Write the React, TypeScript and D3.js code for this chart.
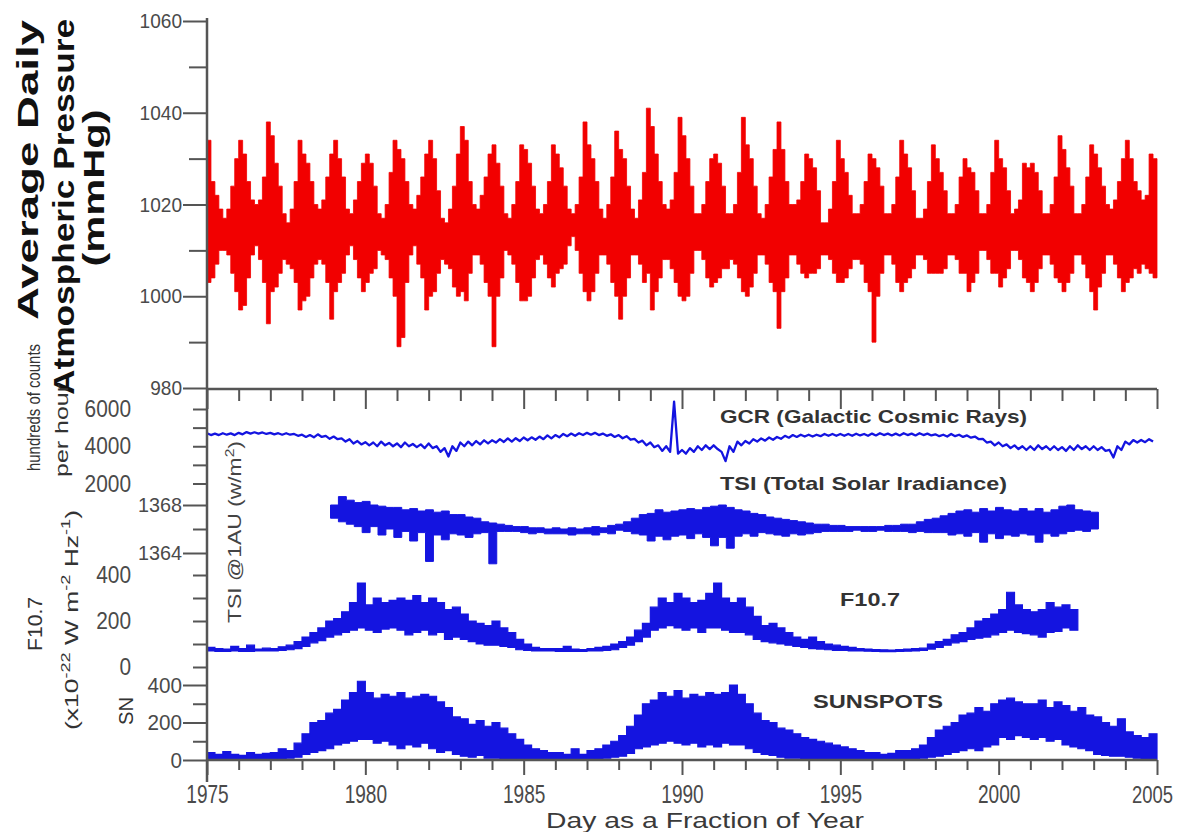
import React, { useEffect, useRef } from 'react';
import * as d3 from 'd3';

// ---- data ----

const majorYears = [1975, 1980, 1985, 1990, 1995, 2000, 2005];
const minorYears = d3.range(1976, 2005).filter((y) => y % 5 !== 0);

const pressureTicks = [980, 1000, 1020, 1040, 1060];
const pressureMinorTicks = [990, 1010, 1030, 1050];

// daily pressure envelope, 8 samples per year from 1975.0 (max / min in each slot)
const pressureStart = 1975;
const pressurePerYear = 8;
const pressureHigh = [
  1034, 1025, 1022, 1019, 1017, 1019, 1024, 1030,
  1034, 1031, 1025, 1021, 1020, 1021, 1026, 1038,
  1035, 1029, 1024, 1018, 1016, 1019, 1025, 1034,
  1031, 1029, 1025, 1020, 1019, 1021, 1026, 1031,
  1034, 1030, 1026, 1019, 1018, 1021, 1025, 1029,
  1031, 1029, 1024, 1018, 1017, 1020, 1027, 1034,
  1032, 1030, 1025, 1020, 1019, 1022, 1026, 1031,
  1034, 1030, 1023, 1017, 1016, 1019, 1024, 1031,
  1037, 1034, 1025, 1020, 1019, 1022, 1026, 1031,
  1033, 1029, 1024, 1018, 1017, 1020, 1025, 1033,
  1032, 1029, 1024, 1019, 1018, 1020, 1025, 1033,
  1031, 1028, 1024, 1019, 1018, 1020, 1026, 1038,
  1033, 1030, 1025, 1019, 1017, 1020, 1026, 1036,
  1032, 1030, 1024, 1019, 1017, 1021, 1027, 1041,
  1037, 1031, 1025, 1020, 1019, 1021, 1027, 1039,
  1035, 1030, 1024, 1018, 1018, 1020, 1025, 1030,
  1031, 1029, 1024, 1018, 1018, 1020, 1027, 1039,
  1033, 1030, 1024, 1018, 1017, 1020, 1026, 1032,
  1038, 1032, 1025, 1020, 1020, 1021, 1025, 1031,
  1030, 1028, 1023, 1016, 1016, 1019, 1025, 1034,
  1030, 1027, 1022, 1018, 1018, 1020, 1025, 1031,
  1030, 1028, 1024, 1018, 1018, 1020, 1026, 1034,
  1031, 1028, 1023, 1017, 1017, 1019, 1025, 1033,
  1030, 1027, 1023, 1018, 1018, 1020, 1026, 1030,
  1028, 1027, 1023, 1018, 1018, 1020, 1027, 1034,
  1030, 1028, 1023, 1018, 1019, 1021, 1029, 1028,
  1029, 1027, 1023, 1018, 1018, 1020, 1026, 1035,
  1032, 1028, 1024, 1018, 1018, 1020, 1026, 1033,
  1031, 1028, 1024, 1020, 1019, 1021, 1025, 1030,
  1034, 1030, 1025, 1023, 1021, 1022, 1031, 1030,
];
const pressureLow = [
  1003, 1004, 1007, 1010, 1010, 1009, 1005, 1001,
  997, 998, 1004, 1009, 1011, 1008, 1003, 994,
  1001, 1002, 1005, 1008, 1007, 1006, 1003, 997,
  999, 1000, 1004, 1007, 1008, 1007, 1003, 995,
  1001, 1003, 1005, 1009, 1011, 1008, 1004, 1001,
  1003, 1005, 1006, 1010, 1009, 1008, 1004, 1000,
  989, 991, 1003, 1009, 1011, 1007, 1004, 997,
  1000, 1001, 1005, 1008, 1007, 1006, 1002, 1000,
  1001, 999, 1005, 1009, 1009, 1007, 1003, 1000,
  989, 1000, 1004, 1010, 1009, 1007, 1003, 999,
  999, 1000, 1004, 1008, 1009, 1007, 1004, 1002,
  1005, 1006, 1007, 1011, 1013, 1010, 1005, 1001,
  999, 1001, 1005, 1009, 1009, 1007, 1003, 1000,
  995, 1000, 1004, 1009, 1009, 1007, 1003, 1005,
  997, 1001, 1004, 1008, 1008, 1006, 1003, 1000,
  999, 1000, 1005, 1010, 1010, 1008, 1004, 1002,
  1003, 1004, 1006, 1006, 1008, 1007, 1004, 1001,
  1000, 1002, 1005, 1009, 1009, 1007, 1003, 1001,
  993, 1001, 1004, 1009, 1009, 1007, 1005, 1004,
  1005, 1005, 1006, 1009, 1009, 1008, 1005, 1003,
  1003, 1004, 1006, 1008, 1008, 1007, 1003, 1001,
  990, 1000, 1005, 1009, 1009, 1007, 1003, 1001,
  1003, 1004, 1006, 1009, 1009, 1008, 1005, 1005,
  1005, 1005, 1006, 1009, 1009, 1008, 1005, 1005,
  1001, 1003, 1005, 1010, 1010, 1008, 1005, 1005,
  1002, 1004, 1006, 1010, 1010, 1008, 1004, 1003,
  1001, 1003, 1006, 1009, 1009, 1007, 1004, 1003,
  1001, 1003, 1005, 1009, 1009, 1007, 1004, 1001,
  997, 1002, 1005, 1009, 1009, 1007, 1004, 1001,
  1003, 1004, 1006, 1005, 1007, 1006, 1005, 1004,
];

// galactic cosmic rays, hundreds of counts per hour, 4 samples per year from 1975.0
const gcrStart = 1975;
const gcrHigh = [
  4700, 4680, 4700, 4690, 4720, 4760, 4750, 4740, 4720, 4700, 4700, 4660,
  4620, 4600, 4640, 4560, 4520, 4420, 4380, 4280, 4220, 4200, 4250, 4180,
  4150, 4200, 4120, 4100, 4150, 4000, 3900, 4000, 4200, 4250, 4280, 4320,
  4320, 4380, 4420, 4430, 4470, 4480, 4520, 4580, 4600, 4660, 4680, 4700,
  4720, 4720, 4680, 4640, 4600, 4540, 4400, 4300, 4200, 4050, 4000, 6400,
  3800, 3900, 4000, 4050, 4050, 3700, 4000, 4250, 4280, 4380, 4420, 4470,
  4500, 4560, 4600, 4620, 4620, 4620, 4660, 4660, 4660, 4660, 4670, 4660,
  4680, 4700, 4680, 4680, 4700, 4680, 4700, 4680, 4640, 4620, 4660, 4620,
  4580, 4520, 4400, 4250, 4200, 4100, 4050, 4000, 4000, 4050, 4000, 4000,
  3950, 4000, 4050, 4000, 4000, 3950, 3800, 4000, 4250, 4330, 4340, 4380,
];
const gcrLow = [
  4600, 4600, 4620, 4600, 4640, 4680, 4680, 4660, 4640, 4620, 4620, 4560,
  4500, 4480, 4500, 4400, 4380, 4250, 4150, 4100, 4050, 4000, 4050, 4000,
  3950, 4000, 3950, 3900, 3900, 3700, 3450, 3750, 4000, 4050, 4100, 4150,
  4200, 4230, 4250, 4280, 4320, 4350, 4380, 4420, 4480, 4540, 4560, 4600,
  4620, 4600, 4560, 4500, 4430, 4350, 4200, 4050, 3950, 3750, 3700, 3600,
  3600, 3700, 3800, 3850, 3850, 3200, 3700, 4050, 4150, 4250, 4300, 4350,
  4400, 4460, 4500, 4520, 4520, 4540, 4560, 4560, 4560, 4560, 4580, 4560,
  4580, 4600, 4580, 4580, 4600, 4580, 4600, 4580, 4540, 4520, 4540, 4500,
  4460, 4380, 4200, 4050, 4000, 3900, 3850, 3800, 3800, 3850, 3800, 3800,
  3750, 3800, 3850, 3800, 3800, 3750, 3400, 3800, 4100, 4200, 4220, 4250,
];

// total solar irradiance at 1 AU (W/m2), 4 samples per year from 1978.9
const tsiStart = 1978.9;
const tsiHigh = [
  1368.0, 1368.7, 1368.4, 1368.2, 1368.3, 1368.0, 1367.9, 1367.8,
  1367.8, 1367.6, 1367.7, 1367.5, 1367.6, 1367.4, 1367.5, 1367.2,
  1367.2, 1367.0, 1366.9, 1366.6, 1366.5, 1366.4, 1366.3, 1366.2,
  1366.2, 1366.1, 1366.1, 1366.0, 1366.1, 1366.0, 1366.1, 1366.0,
  1366.1, 1366.2, 1366.1, 1366.3, 1366.4, 1366.6, 1366.9, 1367.2,
  1367.3, 1367.6, 1367.4, 1367.5, 1367.6, 1367.7, 1367.6, 1367.8,
  1367.9, 1368.0, 1367.8, 1367.6, 1367.5, 1367.3, 1367.2, 1367.0,
  1366.9, 1366.8, 1366.7, 1366.6, 1366.5, 1366.4, 1366.4, 1366.3,
  1366.3, 1366.2, 1366.2, 1366.2, 1366.2, 1366.2, 1366.3, 1366.3,
  1366.4, 1366.4, 1366.6, 1366.8, 1366.9, 1367.1, 1367.3, 1367.5,
  1367.6, 1367.4, 1367.7, 1367.5, 1367.8, 1367.6, 1367.5, 1367.7,
  1367.5, 1367.7, 1367.4, 1367.6, 1367.9, 1368.0, 1367.6, 1367.5,
  1367.4,
];
const tsiLow = [
  1366.9, 1366.6, 1366.4, 1366.2, 1365.7, 1366.2, 1365.5, 1366.0,
  1365.3, 1365.8, 1365.0, 1365.7, 1363.3, 1365.5, 1365.1, 1365.6,
  1365.5, 1365.3, 1365.6, 1365.7, 1363.1, 1365.8, 1365.8, 1365.8,
  1365.7, 1365.6, 1365.7, 1365.6, 1365.6, 1365.6, 1365.5, 1365.6,
  1365.6, 1365.5, 1365.7, 1365.6, 1365.9, 1365.8, 1365.6, 1365.5,
  1365.0, 1365.4, 1365.1, 1365.4, 1365.5, 1365.2, 1365.6, 1365.3,
  1364.6, 1365.3, 1364.4, 1365.4, 1365.6, 1365.4, 1365.7, 1365.6,
  1365.5, 1365.4, 1365.6, 1365.5, 1365.6, 1365.7, 1365.8, 1365.8,
  1365.8, 1365.8, 1365.9, 1365.8, 1365.8, 1365.9, 1365.8, 1365.8,
  1365.8, 1365.7, 1365.8, 1365.7, 1365.7, 1365.7, 1365.5, 1365.6,
  1365.4, 1365.7, 1364.9, 1365.6, 1365.2, 1365.5, 1365.4, 1365.6,
  1365.5, 1364.9, 1365.6, 1365.4, 1365.6, 1365.8, 1365.9, 1365.8,
  1366.0,
];

// F10.7 radio flux, 4 samples per year from 1975.0
const f107Start = 1975;
const f107High = [
  85, 80, 78, 90, 80, 95, 78, 82, 80, 88, 95, 110,
  130, 150, 170, 200, 210, 240, 280, 365, 270, 300, 280, 290,
  300, 290, 310, 280, 300, 280, 250, 260, 230, 200, 190, 180,
  200, 170, 150, 120, 100, 85, 80, 80, 80, 90, 78, 76,
  80, 85, 90, 100, 110, 130, 160, 190, 260, 300, 280, 320,
  300, 280, 290, 320, 365, 300, 280, 300, 260, 220, 180, 190,
  170, 150, 130, 120, 130, 110, 100, 95, 90, 85, 80, 78,
  76, 75, 74, 76, 78, 80, 82, 100, 110, 120, 140, 150,
  170, 200, 210, 230, 250, 325, 270, 250, 240, 250, 280, 260,
  270, 250,
];
const f107Low = [
  70, 68, 68, 70, 68, 68, 70, 70, 70, 72, 75, 80,
  90, 105, 115, 130, 140, 150, 160, 170, 160, 150, 165, 170,
  160, 140, 150, 160, 140, 150, 120, 130, 120, 110, 100, 95,
  95, 90, 85, 75, 72, 70, 70, 70, 68, 68, 68, 68,
  70, 70, 72, 75, 85, 95, 110, 130, 160, 170, 180, 170,
  160, 170, 150, 170, 170, 160, 150, 150, 140, 120, 110, 105,
  100, 95, 90, 85, 80, 78, 75, 72, 72, 70, 70, 69,
  68, 67, 67, 68, 69, 70, 72, 78, 85, 95, 105, 110,
  120, 125, 130, 140, 150, 160, 150, 145, 140, 130, 150, 155,
  170, 160,
];

// daily sunspot number, 4 samples per year from 1975.0
const sunspotStart = 1975;
const sunspotHigh = [
  40, 30, 45, 30, 25, 40, 30, 35, 40, 60, 50, 90,
  140, 200, 210, 250, 270, 320, 360, 420, 360, 330, 350, 340,
  360, 330, 340, 350, 340, 310, 280, 230, 220, 190, 210, 180,
  200, 170, 140, 110, 80, 60, 50, 40, 40, 30, 60, 30,
  50, 60, 80, 100, 130, 180, 240, 300, 320, 360, 340, 370,
  330, 350, 340, 360, 350, 360, 400, 350, 300, 250, 210, 200,
  170, 160, 140, 120, 110, 100, 90, 80, 70, 60, 50, 40,
  40, 30, 35, 50, 50, 60, 80, 120, 160, 180, 200, 240,
  250, 280, 260, 300, 320, 330, 310, 300, 300, 320, 280, 310,
  290, 260, 280, 240, 230, 200, 180, 220, 150, 130, 120, 140,
];
const sunspotLow = [
  2, 0, 0, 2, 0, 0, 2, 0, 5, 8, 10, 15,
  30, 40, 50, 60, 80, 90, 100, 110, 110, 90, 100, 80,
  60, 80, 70, 90, 60, 40, 50, 30, 20, 15, 25, 10,
  10, 5, 5, 3, 0, 0, 0, 0, 0, 0, 0, 0,
  0, 5, 10, 15, 20, 35, 60, 70, 80, 90, 100, 90,
  80, 90, 70, 80, 70, 90, 80, 80, 60, 40, 30, 25,
  15, 10, 10, 5, 5, 3, 2, 0, 0, 0, 0, 0,
  0, 0, 0, 0, 0, 5, 10, 15, 20, 30, 40, 50,
  60, 50, 70, 80, 120, 110, 130, 120, 110, 120, 100, 110,
  80, 70, 60, 50, 30, 25, 20, 20, 15, 10, 5, 0,
];

const gcrLabels = [6000, 4000, 2000];
const gcrTicks = [2000, 3000, 4000, 5000, 6000];
const tsiTicks = [1364, 1368];
const tsiMinorTicks = [1366];
const f107Labels = [400, 200, 0];
const f107Ticks = [0, 100, 200, 300, 400];
const sunspotTicks = [0, 200, 400];
const sunspotMinorTicks = [100, 300];

// ---- helpers ----

const NARROW = "'Liberation Sans Narrow', 'Liberation Sans', Arial, sans-serif";
const SANS = "'Liberation Sans', Arial, Helvetica, sans-serif";
const AXIS = '#555';
const RED = '#f20000';
const BLUE = '#1414e0';

type Slot = { t: number; hi: number; lo: number };
type Pt = { t: number; v: number };

// one block per sample slot; the last block is closed at the end of its slot
const slots = (start: number, perYear: number, hi: number[], lo: number[]): Slot[] => {
  const s = hi.map((h, i) => ({ t: start + i / perYear, hi: h, lo: lo[i] }));
  const last = s[s.length - 1];
  return [...s, { ...last, t: start + hi.length / perYear }];
};

// thin trace: up to the slot max, down to the slot min
const zigzag = (start: number, perYear: number, hi: number[], lo: number[]): Pt[] =>
  hi.flatMap((h, i) => [
    { t: start + i / perYear, v: h },
    { t: start + (i + 0.5) / perYear, v: lo[i] },
  ]);

const Chart = () => {
  const svgRef = useRef<SVGSVGElement>(null);

  useEffect(() => {
    const svg = d3.select(svgRef.current);
    svg.selectAll('*').remove();

    const X0 = 207;
    const X1 = 1157;
    const x = d3.scaleLinear().domain([1975, 2005]).range([X0, X1]);

    const yP = d3.scaleLinear().domain([980, 1060]).range([388, 21]);
    const yG = d3.scaleLinear().domain([2000, 6000]).range([483.5, 409]);
    const yT = d3.scaleLinear().domain([1364, 1368]).range([553, 505]);
    const yF = d3.scaleLinear().domain([0, 400]).range([667, 575]);
    const yS = d3.scaleLinear().domain([0, 400]).range([760, 685]);

    const squeeze = (sel: any, perChar: number) =>
      sel
        .attr('textLength', function (this: SVGTextElement) {
          return (this.textContent || '').length * perChar;
        })
        .attr('lengthAdjust', 'spacingAndGlyphs');

    const styleAxis = (g: any, fontSize = 22, perChar = 10.6) => {
      g.select('.domain').remove();
      g.selectAll('line').attr('stroke', AXIS).attr('stroke-width', 2);
      const t = g.selectAll('text')
        .attr('fill', '#4a4a4a')
        .style('font-family', NARROW)
        .style('font-size', `${fontSize}px`);
      squeeze(t, perChar);
    };

    // ---- series ----
    const drawBand = (data: Slot[], y: any, color: string, width: number) => {
      const area = d3.area<Slot>()
        .curve(d3.curveStepAfter)
        .x((d) => x(d.t))
        .y0((d) => y(d.lo))
        .y1((d) => y(d.hi));
      svg.append('path')
        .attr('d', area(data))
        .attr('fill', color)
        .attr('stroke', color)
        .attr('stroke-width', width);
    };
    const drawTrace = (pts: Pt[], y: any, color: string, width: number) => {
      const line = d3.line<Pt>().x((d) => x(d.t)).y((d) => y(d.v));
      svg.append('path')
        .attr('d', line(pts))
        .attr('fill', 'none')
        .attr('stroke', color)
        .attr('stroke-width', width)
        .attr('stroke-linejoin', 'round');
    };

    drawBand(slots(pressureStart, pressurePerYear, pressureHigh, pressureLow), yP, RED, 0.8);
    drawTrace(zigzag(gcrStart, 4, gcrHigh, gcrLow), yG, BLUE, 2.3);
    drawBand(slots(tsiStart, 4, tsiHigh, tsiLow), yT, BLUE, 1);
    drawBand(slots(f107Start, 4, f107High, f107Low), yF, BLUE, 1.2);
    drawBand(slots(sunspotStart, 4, sunspotHigh, sunspotLow), yS, BLUE, 1.2);

    // ---- left axis line, shared by both panels ----
    svg.append('line')
      .attr('x1', X0).attr('x2', X0).attr('y1', 18).attr('y2', 782)
      .attr('stroke', AXIS).attr('stroke-width', 2.5);

    // pressure axis
    const gP = svg.append('g').attr('transform', `translate(${X0},0)`);
    gP.call(d3.axisLeft(yP).tickValues(pressureTicks).tickSize(24).tickPadding(1).tickFormat(d3.format('d')) as any);
    styleAxis(gP, 21, 10.6);
    const gPm = svg.append('g').attr('transform', `translate(${X0},0)`);
    gPm.call(d3.axisLeft(yP).tickValues(pressureMinorTicks).tickSize(18).tickFormat(() => '') as any);
    styleAxis(gPm);

    // lower panel left ticks
    const minorLeft = (y: any, values: number[]) => {
      const g = svg.append('g').attr('transform', `translate(${X0},0)`);
      g.call(d3.axisLeft(y).tickValues(values).tickSize(14).tickFormat(() => '') as any);
      styleAxis(g);
    };
    minorLeft(yG, gcrTicks);
    minorLeft(yT, tsiMinorTicks);
    minorLeft(yF, f107Ticks);
    minorLeft(yS, sunspotMinorTicks);

    const gT = svg.append('g').attr('transform', `translate(${X0},0)`);
    gT.call(d3.axisLeft(yT).tickValues(tsiTicks).tickSize(24).tickPadding(1).tickFormat(d3.format('d')) as any);
    styleAxis(gT, 21, 11);
    const gS = svg.append('g').attr('transform', `translate(${X0},0)`);
    gS.call(d3.axisLeft(yS).tickValues(sunspotTicks).tickSize(24).tickPadding(1).tickFormat(d3.format('d')) as any);
    styleAxis(gS, 22, 11.5);

    // labels without ticks (GCR and F10.7 scales)
    const freeLabels = (y: any, values: number[]) => {
      const t = svg.append('g').selectAll('text').data(values).enter().append('text')
        .attr('x', 131)
        .attr('y', (d) => y(d))
        .attr('dy', '0.35em')
        .attr('text-anchor', 'end')
        .attr('fill', '#4a4a4a')
        .style('font-family', NARROW)
        .style('font-size', '23px')
        .text((d) => String(d));
      squeeze(t, 11.6);
    };
    freeLabels(yG, gcrLabels);
    freeLabels(yF, f107Labels);

    // ---- horizontal axes ----
    const hLine = (yy: number) =>
      svg.append('line')
        .attr('x1', X0).attr('x2', X1).attr('y1', yy).attr('y2', yy)
        .attr('stroke', AXIS).attr('stroke-width', 2.5);
    hLine(389);
    hLine(760);

    // top edge of the lower panel: ticks hanging down
    const gTopMaj = svg.append('g').attr('transform', 'translate(0,389)');
    gTopMaj.call(d3.axisBottom(x).tickValues(majorYears).tickSize(20).tickFormat(() => '') as any);
    styleAxis(gTopMaj);
    const gTopMin = svg.append('g').attr('transform', 'translate(0,389)');
    gTopMin.call(d3.axisBottom(x).tickValues(minorYears).tickSize(12).tickFormat(() => '') as any);
    styleAxis(gTopMin);

    // bottom axis
    const gB = svg.append('g').attr('transform', 'translate(0,760)');
    gB.call(d3.axisBottom(x).tickValues(majorYears).tickSize(15).tickPadding(10).tickFormat(d3.format('d')) as any);
    styleAxis(gB, 25, 10.6);
    // keep the last label inside the right edge of the picture
    gB.selectAll('text').filter((d: any) => d === 2005)
      .attr('x', -5)
      .style('font-size', '23px')
      .attr('dy', '0.77em')
      .attr('textLength', 41);
    const gBm = svg.append('g').attr('transform', 'translate(0,760)');
    gBm.call(d3.axisBottom(x).tickValues(minorYears).tickSize(10).tickFormat(() => '') as any);
    styleAxis(gBm);

    svg.append('text')
      .attr('x', 705).attr('y', 828)
      .attr('text-anchor', 'middle')
      .attr('fill', '#3a3a3a')
      .attr('textLength', 318)
      .attr('lengthAdjust', 'spacingAndGlyphs')
      .style('font-family', NARROW)
      .style('font-size', '22px')
      .text('Day as a Fraction of Year');

    // ---- rotated axis titles ----
    const vText = (
      cx: number, cy: number, str: string, size: number, len: number,
      weight = 'normal', anchor = 'middle', color = '#333',
    ) =>
      svg.append('text')
        .attr('transform', `translate(${cx},${cy}) rotate(-90)`)
        .attr('text-anchor', anchor)
        .attr('fill', color)
        .attr('textLength', len)
        .attr('lengthAdjust', 'spacingAndGlyphs')
        .style('font-family', SANS)
        .style('font-size', `${size}px`)
        .style('font-weight', weight)
        .text(str);

    vText(38, 170, 'Average Daily', 30, 300, 'bold', 'middle', '#111');
    vText(74, 207, 'Atmospheric Pressure', 30, 376, 'bold', 'middle', '#111');
    vText(104, 188, '(mmHg)', 30, 157, 'bold', 'middle', '#111');

    vText(40, 471, 'hundreds of counts', 19, 127, 'normal', 'start');
    vText(68, 477, 'per hour', 19, 93, 'normal', 'start');
    vText(42, 624, 'F10.7', 20, 54);
    vText(133, 711, 'SN', 20, 28);

    const tsiLabel = vText(241, 623, '', 19, 182, 'normal', 'start', '#444');
    tsiLabel.append('tspan').text('TSI @1AU (w/m');
    tsiLabel.append('tspan').attr('dy', -7).style('font-size', '13px').text('2');
    tsiLabel.append('tspan').attr('dy', 7).text(')');

    const units = vText(78, 620, '', 19, 220);
    units.append('tspan').text('(x10');
    units.append('tspan').attr('dy', -8).style('font-size', '13px').text('-22');
    units.append('tspan').attr('dy', 8).text(' W m');
    units.append('tspan').attr('dy', -8).style('font-size', '13px').text('-2');
    units.append('tspan').attr('dy', 8).text(' Hz');
    units.append('tspan').attr('dy', -8).style('font-size', '13px').text('-1');
    units.append('tspan').attr('dy', 8).text(')');

    // ---- series names inside the lower panel ----
    const nameText = (x0: number, yy: number, str: string, len: number) =>
      svg.append('text')
        .attr('x', x0).attr('y', yy)
        .attr('fill', '#333')
        .attr('textLength', len)
        .attr('lengthAdjust', 'spacingAndGlyphs')
        .style('font-family', SANS)
        .style('font-size', '19px')
        .style('font-weight', 'bold')
        .text(str);

    nameText(720, 423, 'GCR (Galactic Cosmic Rays)', 307);
    nameText(720, 490, 'TSI (Total Solar Iradiance)', 287);
    nameText(840, 606, 'F10.7', 60);
    nameText(813, 708, 'SUNSPOTS', 130);
  }, []);

  return <svg ref={svgRef} width={1179} height={832} style={{ display: 'block', background: '#fff' }} />;
};

export default function App() {
  useEffect(() => {
    document.body.style.margin = '0';
  }, []);
  return <Chart />;
}
